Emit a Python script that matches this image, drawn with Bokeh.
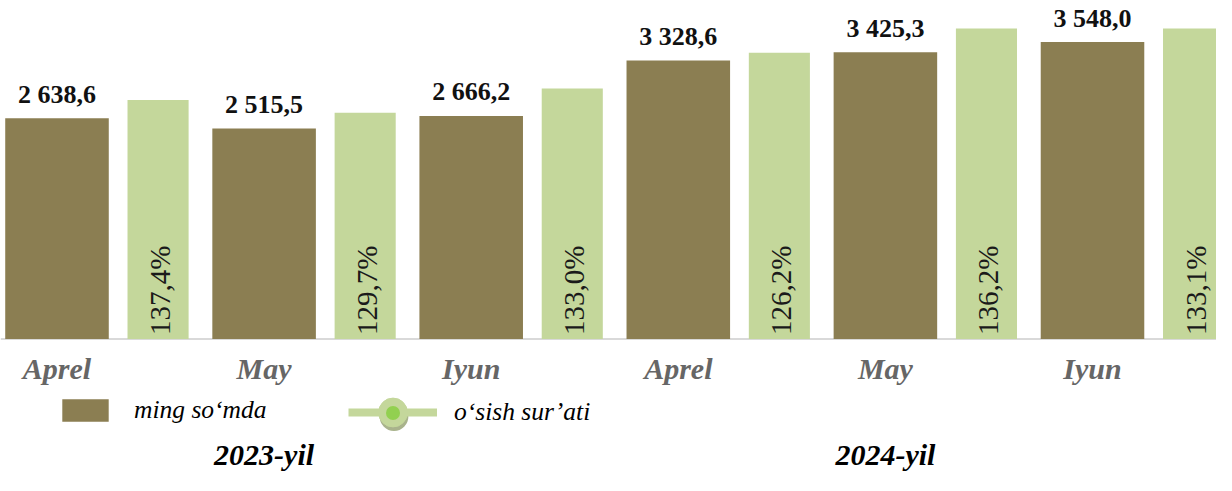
import numpy as np
from bokeh.plotting import figure
from bokeh.models import ColumnDataSource, Span, Legend, LegendItem, Range1d
from bokeh.core.properties import value
from bokeh.embed import file_html
from bokeh.resources import INLINE

# ---- data ----
months = ["Aprel", "May", "Iyun", "Aprel", "May", "Iyun"]
years = ["2023-yil", "2024-yil"]
year_of = [0, 0, 0, 1, 1, 1]
amount = [2638.6, 2515.5, 2666.2, 3328.6, 3425.3, 3548.0]      # ming so'mda
growth = [137.4, 129.7, 133.0, 126.2, 136.2, 133.1]            # o'sish sur'ati, %
growth_bar = [2855, 2705, 2995, 3420, 3710, 3710]              # drawn height of growth bars (primary units)

OLIVE = "#8B7E52"
GREEN = "#C4D79B"
FONT = "Liberation Serif, Times New Roman, serif"
SERIF = value(FONT)

idx = np.arange(len(months), dtype=float)
fmt_amount = [f"{v:,.1f}".replace(",", " ").replace(".", ",") for v in amount]
fmt_growth = [f"{v:.1f}".replace(".", ",") + "%" for v in growth]

src = ColumnDataSource(dict(x=idx, gx=idx + 0.488, amount=amount, gbar=growth_bar,
                            alab=fmt_amount, glab=fmt_growth, month=months,
                            zero=[0] * len(months)))
year_x = [float(np.mean([i for i, y in enumerate(year_of) if y == k])) for k in range(len(years))]
ysrc = ColumnDataSource(dict(x=year_x, y=[0, 0], text=years))

W, H = 1216, 475
PXX = 207.1          # px per category step
BASE = 338.6         # px from top to the zero line
U = 11.946           # value units per px
x0 = -56.5 / PXX
p = figure(width=W, height=H, output_backend="svg", toolbar_location=None,
           x_range=Range1d(x0, x0 + W / PXX),
           y_range=Range1d(-(H - BASE) * U, BASE * U),
           min_border=0, x_axis_location=None, y_axis_location=None,
           outline_line_color=None, background_fill_color="white")
p.grid.visible = False

p.add_layout(Span(location=0, dimension="width", line_color="#d9d9d9", line_width=2, level="underlay"))

olive = p.vbar(x="x", top="amount", width=0.5, source=src, fill_color=OLIVE, line_color=None)
green = p.vbar(x="gx", top="gbar", width=0.295, source=src, fill_color=GREEN, line_color=None)

p.text(x="x", y="amount", text="alab", source=src, text_align="center", text_baseline="middle",
       y_offset=-24, text_font=SERIF, text_font_style="bold", text_font_size="26px", text_color="#111111")
p.text(x="gx", y="zero", text="glab", source=src, angle=np.pi / 2, text_align="left",
       text_baseline="middle", y_offset=-4, x_offset=2, text_font=SERIF, text_font_size="29px",
       text_color="#1a1a1a")
p.text(x="x", y="zero", text="month", source=src, text_align="center", text_baseline="middle",
       y_offset=29, text_font=SERIF, text_font_style="bold italic", text_font_size="30px",
       text_color="#666666")
p.text(x="x", y="y", text="text", source=ysrc, text_align="center", text_baseline="middle",
       y_offset=115, text_font=SERIF, text_font_style="bold italic", text_font_size="30px",
       text_color="black")

# legend-only renderers (single NaN point so they are never drawn in the plot)
lsrc = ColumnDataSource(dict(x=[np.nan], y=[np.nan]))
ln = p.line("x", "y", source=lsrc, line_color=GREEN, line_width=8)
c_sh = p.scatter("x", "y", source=lsrc, marker="circle", size=29, fill_color="#A9B38C", line_color=None)
c1 = p.scatter("x", "y", source=lsrc, marker="circle", size=29, fill_color=GREEN, line_color=GREEN)
c_dot = p.scatter("x", "y", source=lsrc, marker="circle", size=14, fill_color="#92D050", line_color=None)

common = dict(padding=0, margin=0, border_line_color=None, background_fill_alpha=0,
              label_text_font=FONT, label_text_font_style="italic",
              label_text_font_size="25.5px", label_text_color="black", spacing=0)
leg1 = Legend(items=[LegendItem(label="ming so‘mda", renderers=[olive])], location=(56, 50),
              glyph_width=58, glyph_height=28, label_standoff=20, **common)
leg_sh = Legend(items=[LegendItem(label=" ", renderers=[c_sh])], location=(349, 23),
                glyph_width=89, glyph_height=72, label_standoff=0, **common)
leg2 = Legend(items=[LegendItem(label="o‘sish sur’ati", renderers=[ln, c1])], location=(348, 27),
              glyph_width=89, glyph_height=72, label_standoff=17, **common)
leg_dot = Legend(items=[LegendItem(label=" ", renderers=[c_dot])], location=(348, 45.5),
                 glyph_width=89, glyph_height=35, label_standoff=0, **common)
for lg in (leg1, leg_sh, leg2, leg_dot):
    p.add_layout(lg)

open("out.html", "w").write(file_html(p, INLINE))
